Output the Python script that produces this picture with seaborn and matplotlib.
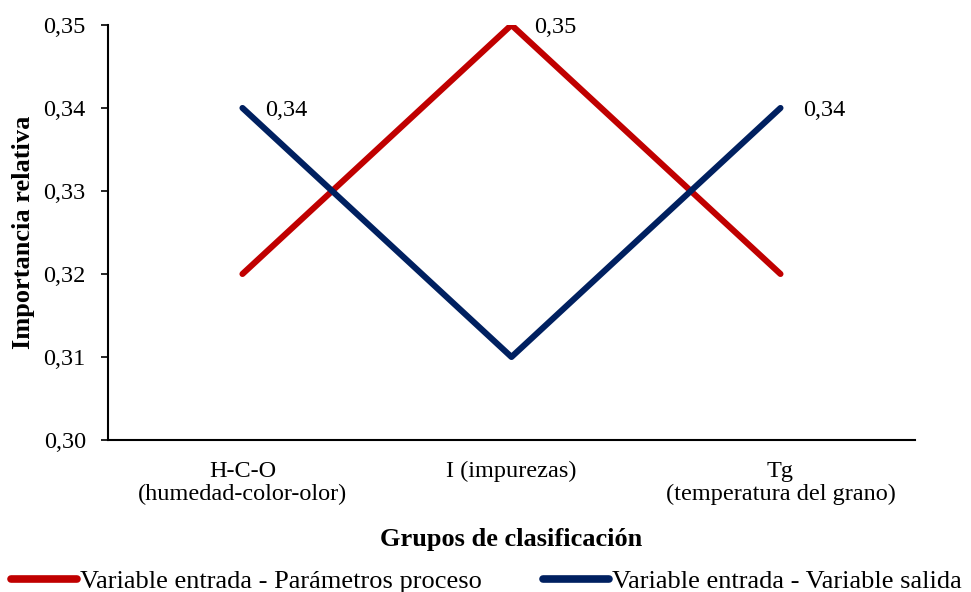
import pandas as pd
import matplotlib
matplotlib.use("Agg")
import matplotlib.pyplot as plt
import seaborn as sns

# ---------------------
# Data
# ---------------------
categories = ["H-C-O\n(humedad-color-olor)", "I (impurezas)", "Tg\n(temperatura del grano)"]
series_names = ["Variable entrada - Parámetros proceso", "Variable entrada - Variable salida"]
red_values = [0.32, 0.35, 0.32]
blue_values = [0.34, 0.31, 0.34]
yticks = [0.30, 0.31, 0.32, 0.33, 0.34, 0.35]
# (series index, category index) of the labelled points
labelled = [(0, 1), (1, 0), (1, 2)]

colors = ["#C00000", "#002060"]

df = pd.DataFrame({
    "Grupo": categories * 2,
    "Serie": [series_names[0]] * 3 + [series_names[1]] * 3,
    "Valor": red_values + blue_values,
})

# ---------------------
# Plot
# ---------------------
sns.set_style("white")
plt.rcParams["font.family"] = ["Liberation Serif", "DejaVu Serif"]
plt.rcParams["text.color"] = "black"
plt.rcParams["axes.labelcolor"] = "black"
plt.rcParams["xtick.color"] = "black"
plt.rcParams["ytick.color"] = "black"

fig = plt.figure(figsize=(9.71, 5.92), dpi=100)
ax = fig.add_axes([0.1112, 0.2568, 0.8311, 0.7010])

sns.lineplot(data=df, x="Grupo", y="Valor", hue="Serie", palette=colors,
             sort=False, linewidth=4.4, ax=ax, legend=False)

all_values = [red_values, blue_values]
for s, c in labelled:
    ax.annotate(f"{all_values[s][c]:.2f}".replace(".", ","),
                xy=(c, all_values[s][c]), xytext=(16.5, -1.5), textcoords="offset points",
                ha="left", va="center", fontsize=17.5)

ax.set_xlim(-0.5, 2.5)
ax.set_ylim(0.30, 0.35)
ax.set_yticks(yticks)
ax.set_yticklabels([f"{v:.2f}".replace(".", ",") for v in yticks], fontsize=17.5)
ax.tick_params(axis="x", length=0, pad=15, labelsize=17.5)
ax.tick_params(axis="y", length=5, width=1.2, direction="out", left=True, pad=11)
for lab in ax.get_xticklabels():
    lab.set_linespacing(1.15)
    lab.set_verticalalignment("top")

for side in ["top", "right"]:
    ax.spines[side].set_visible(False)
for side in ["left", "bottom"]:
    ax.spines[side].set_color("black")
    ax.spines[side].set_linewidth(1.5)

ax.set_xlabel("Grupos de clasificación", fontsize=19, fontweight="bold", labelpad=16)
ax.set_ylabel("Importancia relativa", fontsize=19, fontweight="bold", labelpad=6)

handles = [plt.Line2D([], [], color=col, linewidth=5.5, solid_capstyle="round") for col in colors]
fig.legend(handles, series_names, loc="lower left", bbox_to_anchor=(-0.013, -0.042),
           ncol=2, frameon=False, fontsize=19, handlelength=2.5, handletextpad=0.12,
           columnspacing=2.3)

plt.savefig("out.png", dpi=100)
plt.close()
